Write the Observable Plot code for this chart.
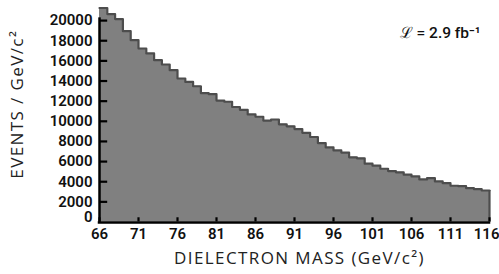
<!DOCTYPE html>
<html><head><meta charset="utf-8">
<script src="https://cdn.jsdelivr.net/npm/d3@7"></script>
<script src="https://cdn.jsdelivr.net/npm/@observablehq/plot@0.6"></script>
<style>body{margin:0;background:#fff}</style>
</head><body><div id="chart"></div>
<script>
// bin lower edges (GeV/c^2), 1 GeV bins
const binStart = [66,67,68,69,70,71,72,73,74,75,76,77,78,79,80,81,82,83,84,85,86,87,88,89,90,91,92,93,94,95,96,97,98,99,100,101,102,103,104,105,106,107,108,109,110,111,112,113,114,115];
const counts = [21250,20650,20150,18950,18060,17230,16740,16070,15640,15080,14250,13910,13480,12790,12690,12060,11940,11420,11140,10680,10450,10070,10180,9700,9500,9230,8860,8440,7840,7410,7110,6890,6420,6320,5790,5590,5290,5060,4930,4700,4530,4230,4360,4030,3860,3600,3560,3360,3260,3130];
const binWidth = 1;
const xTicks = [66,71,76,81,86,91,96,101,106,111,116];
const yTicks = [2000,4000,6000,8000,10000,12000,14000,16000,18000,20000];
const xTitle = "DIELECTRON MASS (GeV/c²)";
const yTitle = "EVENTS / GeV/c²";
const lumiText = "ℒ = 2.9 fb⁻¹";

const steps = binStart.map((x, i) => ({x, n: counts[i]}));
const lastEdge = binStart[binStart.length - 1] + binWidth;
steps.push({x: lastEdge, n: counts[counts.length - 1]});

const tickFont = {fontFamily: "Roboto", fontSize: 15, fontWeight: 600, fill: "#111"};
const titleFont = {fontFamily: "Open Sans", fontSize: 17, fill: "#222"};

const chart = Plot.plot({
  width: 499, height: 274,
  marginLeft: 99, marginRight: 10, marginTop: 6, marginBottom: 52.5,
  x: {domain: [66, 116], axis: null},
  y: {domain: [0, 21400], axis: null},
  marks: [
    Plot.areaY(steps, {x: "x", y: "n", curve: "step-after", fill: "#808080"}),
    Plot.lineY(steps, {x: "x", y: "n", curve: "step-after", stroke: "#4d4d4d", strokeWidth: 2.2}),
    Plot.ruleX([steps[steps.length - 1]], {x: "x", y1: 0, y2: "n", stroke: "#4d4d4d", strokeWidth: 2.2}),
    // ticks pointing inward
    Plot.ruleY(yTicks, {y: d => d, x1: xTicks[0], x2: xTicks[0] + binWidth * 1.05, stroke: "#000", strokeWidth: 2.2}),
    Plot.ruleX(xTicks, {x: d => d, y1: 0, y2: 420, stroke: "#000", strokeWidth: 2.2}),
    // axis lines
    Plot.ruleX([xTicks[0]], {y1: 0, y2: yTicks[yTicks.length - 1] + 150, stroke: "#000", strokeWidth: 2.5, strokeLinecap: "square"}),
    Plot.ruleY([0], {x1: xTicks[0], x2: xTicks[xTicks.length - 1], stroke: "#000", strokeWidth: 2.5, strokeLinecap: "square", dy: 0.5}),
    // tick labels
    Plot.text(yTicks, {y: d => d, frameAnchor: "left", textAnchor: "end", dx: -7, text: d => String(d), ...tickFont}),
    Plot.text([0], {y: d => d, frameAnchor: "left", textAnchor: "end", dx: -7, dy: -5, text: d => String(d), ...tickFont}),
    Plot.text(xTicks.slice(0, -1), {x: d => d, frameAnchor: "bottom", lineAnchor: "top", dy: 6, text: d => String(d), ...tickFont}),
    Plot.text(xTicks.slice(-1), {x: d => d, frameAnchor: "bottom", lineAnchor: "top", textAnchor: "end", dx: 10, dy: 6, text: d => String(d), ...tickFont}),
    // titles
    Plot.text([xTitle], {frameAnchor: "bottom", lineAnchor: "top", dy: 30, dx: 5, text: d => d, ...titleFont}),
    Plot.text([yTitle], {frameAnchor: "left", textAnchor: "middle", rotate: -90, dx: -82, dy: -10, text: d => d, ...titleFont}),
    Plot.text([lumiText], {frameAnchor: "top-right", textAnchor: "end", lineAnchor: "bottom", dx: -9, dy: 31, text: d => d, fontFamily: "Roboto", fontSize: 15.5, fontWeight: 500, fill: "#111"})
  ]
});
d3.select(chart).selectAll("text")
  .filter(function() { return this.textContent === xTitle || this.textContent === yTitle; })
  .attr("letter-spacing", 1.4);
document.getElementById("chart").appendChild(chart);
</script>
</body></html>
